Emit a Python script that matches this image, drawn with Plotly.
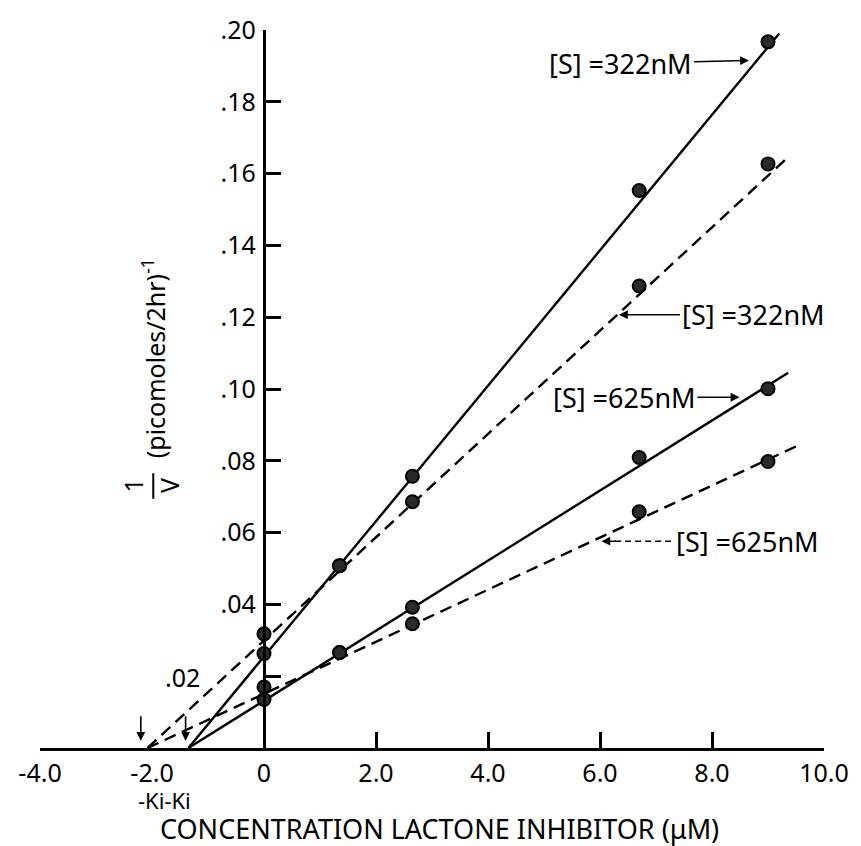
import plotly.graph_objects as go

# ---------------- data ----------------
conc = [0.0, 1.35, 2.65, 6.7, 9.0]                      # lactone inhibitor, uM
inv_v_322_solid = [0.0263, 0.0508, 0.0757, 0.1553, 0.1967]
inv_v_322_dash = [0.0318, 0.0508, 0.0686, 0.1287, 0.1627]
inv_v_625_solid = [0.0135, 0.0266, 0.0392, 0.0809, 0.1001]
inv_v_625_dash = [0.0170, 0.0266, 0.0346, 0.0658, 0.0798]

# fitted lines: start on the x axis at -Ki, end point
ki_solid = 1.35
ki_dash = 2.08
line_end_x = {"322s": 9.2, "322d": 9.36, "625s": 9.36, "625d": 9.5}
line_end_y = {"322s": 0.199, "322d": 0.1646, "625s": 0.1045, "625d": 0.084}

x_tick_vals = [-4, -2, 0, 2, 4, 6, 8, 10]
x_tick_text = ["-4.0", "-2.0", "0", "2.0", "4.0", "6.0", "8.0", "10.0"]
x_tick_marks = [-4, 2, 4, 6, 8, 10]
y_tick_vals = [0.02, 0.04, 0.06, 0.08, 0.10, 0.12, 0.14, 0.16, 0.18, 0.20]
y_tick_text = ["", ".04", ".06", ".08", ".10", ".12", ".14", ".16", ".18", ".20"]

FONT = "Noto Sans"
FS = 25
W, H = 861, 846
ML, MR, MT, MB = 40, 25, 19, 98
PW, PH = W - ML - MR, H - MT - MB


def px(xp):  # pixel -> paper
    return (xp - ML) / PW


def py(yp):
    return (H - MB - yp) / PH


fig = go.Figure()

series = [
    ("322s", -ki_solid, inv_v_322_solid, "solid"),
    ("322d", -ki_dash, inv_v_322_dash, "12px,7px"),
    ("625s", -ki_solid, inv_v_625_solid, "solid"),
    ("625d", -ki_dash, inv_v_625_dash, "12px,7px"),
]
for key, x0, yvals, dash in series:
    fig.add_trace(go.Scatter(
        x=[x0, line_end_x[key]], y=[0, line_end_y[key]], mode="lines",
        line=dict(color="black", width=2.4, dash=dash),
        showlegend=False, hoverinfo="skip", cliponaxis=False))
    fig.add_trace(go.Scatter(
        x=conc, y=yvals, mode="markers",
        marker=dict(symbol="circle", size=13, color="#2a2a2a",
                    line=dict(color="black", width=2)),
        showlegend=False, cliponaxis=False))

# dummy trace so the tick-only overlay axis is drawn
fig.add_trace(go.Scatter(x=[None], y=[None], xaxis="x2", showlegend=False))

fig.update_layout(
    width=W, height=H,
    margin=dict(l=ML, r=MR, t=MT, b=MB),
    plot_bgcolor="white", paper_bgcolor="white",
    font=dict(family=FONT, size=FS, color="black"),
    xaxis=dict(range=[-4, 10], tickvals=x_tick_vals, ticktext=x_tick_text,
               ticks="", showline=True, linecolor="black", linewidth=2.5,
               showgrid=False, zeroline=False, ticklabelstandoff=1,
               tickfont=dict(family=FONT, size=FS)),
    xaxis2=dict(range=[-4, 10], overlaying="x", anchor="y", side="bottom",
                tickvals=x_tick_marks, ticks="inside", ticklen=16, tickwidth=2.5,
                tickcolor="black", showticklabels=False, showgrid=False,
                zeroline=False, showline=False),
    yaxis=dict(range=[0, 0.20], anchor="free", position=(267 - ML) / PW,
               tickvals=y_tick_vals, ticktext=y_tick_text,
               ticks="inside", ticklen=16, tickwidth=2.5, tickcolor="black",
               showline=True, linecolor="black", linewidth=2.5,
               showgrid=False, zeroline=False, ticklabelstandoff=2,
               tickfont=dict(family=FONT, size=FS)),
)

LFS = 27
ann = []
# series labels
ann.append(dict(x=8.66, y=0.1915, ax=-128, ay=3, text="[S] =322nM",
                showarrow=True, arrowhead=2, arrowsize=1.1, arrowwidth=1.6))
ann.append(dict(x=6.34, y=0.1207, ax=134, ay=0, text="[S] =322nM",
                showarrow=True, arrowhead=2, arrowsize=1.1, arrowwidth=1.6))
ann.append(dict(x=8.49, y=0.0977, ax=-115, ay=0, text="[S] =625nM",
                showarrow=True, arrowhead=2, arrowsize=1.1, arrowwidth=1.6))
ann.append(dict(x=8.63, y=0.0576, text="[S] =625nM", showarrow=False))
ann.append(dict(x=6.025, y=0.0576, ax=16, ay=0, text="",
                showarrow=True, arrowhead=2, arrowsize=1.1, arrowwidth=1.6))
# -Ki arrows
for xk in (-2.2, -1.40):
    ann.append(dict(x=xk, y=0.002, ax=0, ay=-26, text="", showarrow=True,
                    arrowhead=2, arrowsize=1.1, arrowwidth=1.6))
for a in ann:
    a.update(xref="x", yref="y", font=dict(family=FONT, size=LFS),
             arrowcolor="black")

paper_ann = [
    dict(x=px(166), y=py(801), text="-Ki-Ki", size=22),
    dict(x=px(446), y=py(830), text="CONCENTRATION LACTONE INHIBITOR (\u03bcM)", size=27),
    dict(x=px(185), y=py(676), text=".02", size=FS),
    dict(x=px(156), y=py(352), text="(picomoles/2hr)<sup>-1</sup>", textangle=-90, size=FS),
    dict(x=px(134), y=py(482), text="1", textangle=-90, size=FS),
    dict(x=px(171), y=py(482), text="V", textangle=-90, size=FS),
]
for a in paper_ann:
    s = a.pop("size")
    a.update(xref="paper", yref="paper", showarrow=False,
             xanchor="center", yanchor="middle",
             font=dict(family=FONT, size=s))
    ann.append(a)
fig.update_layout(annotations=ann)

shapes = [
    dict(type="line", xref="x", yref="y", x0=6.27, x1=7.31, y0=0.0576, y1=0.0576,
         line=dict(color="black", width=1.6, dash="6px,4px")),
    dict(type="line", xref="paper", yref="paper", x0=px(155), x1=px(155),
         y0=py(469), y1=py(495), line=dict(color="black", width=2)),
]
fig.update_layout(shapes=shapes)

fig.write_html("out.html", config={"displayModeBar": False},
               post_script="document.body.style.margin='0';")
